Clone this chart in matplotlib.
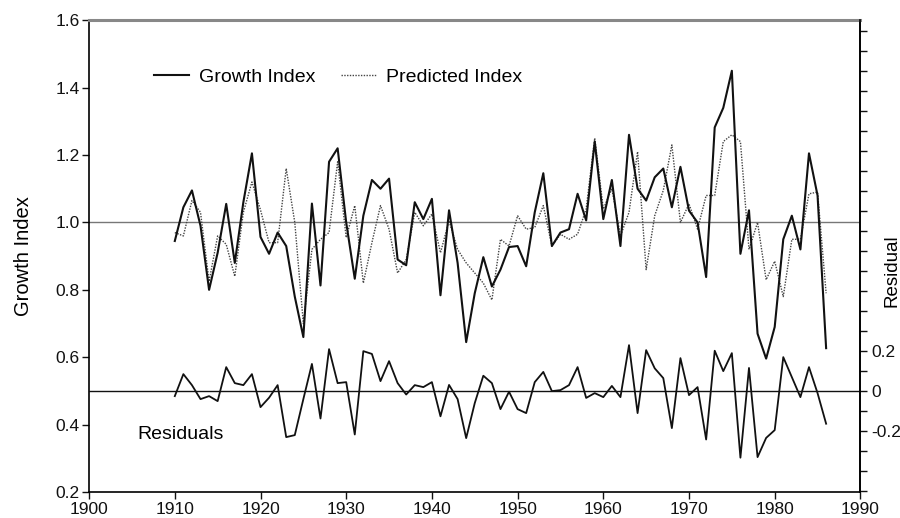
import numpy as np
import matplotlib
matplotlib.use("Agg")
import matplotlib.pyplot as plt
from matplotlib.ticker import FixedLocator, FuncFormatter

plt.rcParams['font.family'] = ['Liberation Sans', 'DejaVu Sans']

years = list(range(1910, 1987))

growth = [0.945, 1.045, 1.095, 0.99, 0.80, 0.91, 1.055, 0.88, 1.06, 1.205,
          0.957, 0.907, 0.97, 0.93, 0.78, 0.66, 1.056, 0.813, 1.18, 1.22,
          1.00, 0.833, 1.02, 1.126, 1.10, 1.13, 0.89, 0.873, 1.06, 1.01,
          1.07, 0.784, 1.036, 0.88, 0.645, 0.79, 0.897, 0.81, 0.86, 0.927,
          0.93, 0.87, 1.03, 1.146, 0.93, 0.97, 0.98, 1.085, 1.006, 1.24,
          1.01, 1.126, 0.93, 1.26, 1.10, 1.065, 1.134, 1.16, 1.045, 1.165,
          1.035, 1.00, 0.838, 1.282, 1.34, 1.45, 0.907, 1.036, 0.67, 0.596,
          0.69, 0.95, 1.02, 0.92, 1.205, 1.08, 0.627]

predicted = [0.97, 0.96, 1.065, 1.03, 0.825, 0.96, 0.935, 0.84, 1.03, 1.12,
             1.037, 0.94, 0.94, 1.16, 1.00, 0.70, 0.92, 0.95, 0.97, 1.18,
             0.955, 1.05, 0.82, 0.94, 1.05, 0.98, 0.85, 0.89, 1.03, 0.99,
             1.025, 0.91, 1.005, 0.92, 0.88, 0.85, 0.82, 0.77, 0.95, 0.93,
             1.02, 0.98, 0.985, 1.05, 0.93, 0.965, 0.95, 0.965, 1.04, 1.25,
             1.04, 1.10, 0.96, 1.03, 1.21, 0.86, 1.02, 1.095, 1.23, 1.00,
             1.055, 0.98, 1.08, 1.08, 1.24, 1.26, 1.24, 0.92, 1.00, 0.83,
             0.885, 0.78, 0.95, 0.95, 1.085, 1.09, 0.79]

residual = np.array(growth) - np.array(predicted)

left_ticks = [0.2, 0.4, 0.6, 0.8, 1.0, 1.2, 1.4, 1.6]
year_ticks = list(range(1900, 1991, 10))
resid_labels = {-0.2: '-0.2', 0.0: '0', 0.2: '0.2'}

fig = plt.figure(figsize=(9, 5.18), dpi=100)
ax = fig.add_axes([0.099, 0.050, 0.857, 0.911])

ax.axhline(1.0, color='#777777', lw=1.0, zorder=1)
ax.plot(years, predicted, color='#444444', lw=1.0, ls=(0, (1, 1)),
        label='Predicted Index', zorder=2)
ax.plot(years, growth, color='#111111', lw=1.5, label='Growth Index', zorder=3)

ax.set_xlim(1900, 1990)
ax.set_ylim(0.2, 1.6)
ax.set_xticks(year_ticks)
ax.set_yticks(left_ticks)
ax.yaxis.set_major_formatter(FuncFormatter(lambda v, p: '%.1f' % v))
ax.tick_params(axis='both', direction='out', length=5, width=1,
               labelsize=12.5, colors='#111111', pad=2)
ax.set_ylabel('Growth Index', fontsize=14.5)
ax.yaxis.set_label_coords(-0.073, 0.5)
for side in ['left', 'bottom', 'right']:
    ax.spines[side].set_linewidth(1.2)
ax.spines['top'].set_linewidth(2.2)
ax.spines['top'].set_color('#888888')

handles, labels = ax.get_legend_handles_labels()
ax.legend(handles[::-1], labels[::-1], ncol=2, frameon=False, fontsize=14,
          loc='upper left', bbox_to_anchor=(0.062, 0.935),
          handlelength=1.8, handletextpad=0.5, columnspacing=1.3)

ax.text(1905.6, 0.37, 'Residuals', fontsize=14, va='center')

ax2 = ax.twinx()
ax2.set_ylim(-0.505, 1.855)
ax2.axhline(0.0, color='#111111', lw=1.0, zorder=1)
ax2.plot(years, residual, color='#111111', lw=1.3, zorder=3)
ax2.yaxis.set_major_locator(FixedLocator(np.round(np.arange(-0.5, 1.85, 0.1), 2)))
ax2.yaxis.set_major_formatter(
    FuncFormatter(lambda v, p: resid_labels.get(round(v, 1), '')))
ax2.tick_params(axis='y', direction='out', length=5, width=1,
                labelsize=12.5, colors='#111111', pad=3)
ax2.set_ylabel('Residual', fontsize=13.5)
ax2.yaxis.set_label_coords(1.03, 0.47)
for side in ['top', 'left', 'bottom']:
    ax2.spines[side].set_visible(False)
ax2.spines['right'].set_linewidth(1.2)

fig.savefig('out.png', dpi=100)
